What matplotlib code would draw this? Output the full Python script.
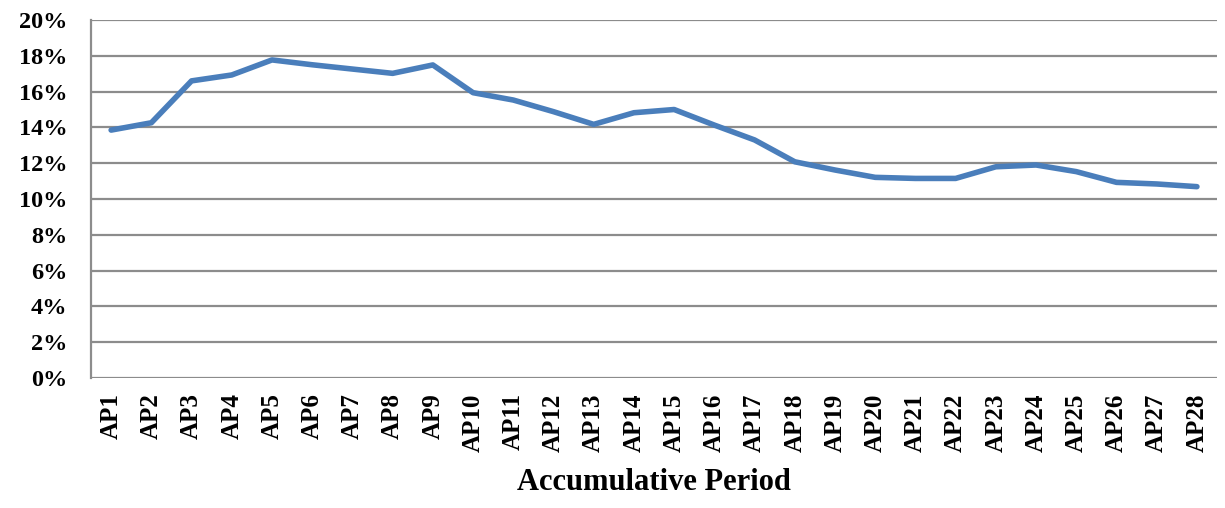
import numpy as np
import matplotlib
matplotlib.use("Agg")
from matplotlib import pyplot as plt
from matplotlib.ticker import FuncFormatter

# accumulative periods AP1..AP28
periods = ["AP%d" % i for i in range(1, 29)]
share = [13.85, 14.26, 16.6, 16.93, 17.77, 17.5, 17.26, 17.02, 17.49, 15.94,
         15.53, 14.88, 14.17, 14.82, 15.0, 14.13, 13.3, 12.08, 11.62, 11.21,
         11.15, 11.15, 11.8, 11.9, 11.53, 10.93, 10.84, 10.69]

plt.rcParams['font.family'] = ['Liberation Serif', 'DejaVu Serif']
plt.rcParams['font.weight'] = 'bold'

fig = plt.figure(figsize=(12.25, 5.08), dpi=100)
ax = fig.add_axes([0.0743, 0.2559, 0.9192, 0.7047])

x = np.arange(len(periods))
ax.plot(x, share, color='#4a7ebb', lw=4, solid_joinstyle='round', solid_capstyle='round', zorder=3)

ax.set_xlim(-0.5, len(periods) - 0.5)
ax.set_ylim(0, 20)
ax.set_yticks(np.arange(0, 21, 2))
ax.yaxis.set_major_formatter(FuncFormatter(lambda v, p: "%d%%" % v))
ax.set_xticks(x)
ax.set_xticklabels(periods, rotation=90)
ax.tick_params(axis='both', length=0)
ax.tick_params(axis='x', pad=11, labelsize=18)
ax.tick_params(axis='y', pad=17, labelsize=17.5)

ax.grid(axis='y', color='#8c8c8c', lw=1.6)
ax.set_axisbelow(True)
for s in ['top', 'right', 'bottom']:
    ax.spines[s].set_visible(False)
ax.spines['left'].set_color('#8c8c8c')
ax.spines['left'].set_linewidth(1.6)

ax.set_xlabel("Accumulative Period", fontsize=22, fontweight='bold', labelpad=12)

fig.savefig("out.png", dpi=100)
